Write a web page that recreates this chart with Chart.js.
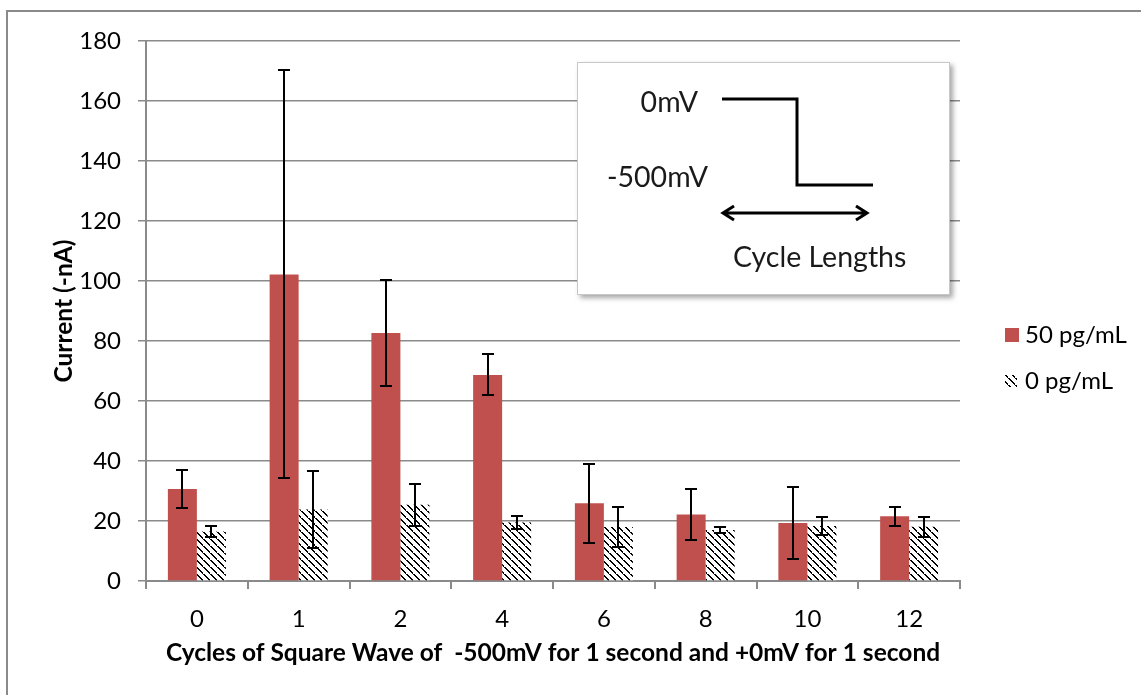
<!DOCTYPE html>
<html>
<head>
<meta charset="utf-8">
<script src="https://cdn.jsdelivr.net/npm/chart.js@4.4.1/dist/chart.umd.min.js"></script>
<style>
  html, body { margin: 0; padding: 0; background: #fff; }
  #wrap { width: 1141px; height: 695px; position: relative; }
</style>
</head>
<body>
<div id="wrap"><canvas id="c" width="1141" height="695"></canvas></div>
<script>
// Cycle counts on the x axis
const categories = ['0', '1', '2', '4', '6', '8', '10', '12'];
// 50 pg/mL sample: mean current and error
const current50 = [30.7, 102.2, 82.7, 68.7, 25.9, 22.2, 19.3, 21.6];
const error50 = [6.2, 68.0, 17.8, 6.8, 13.2, 8.5, 12.0, 3.2];
// 0 pg/mL blank: mean current and error
const current0 = [16.5, 23.8, 25.4, 19.5, 18.0, 17.0, 18.3, 18.1];
const error0 = [1.7, 12.8, 6.9, 2.3, 6.6, 1.1, 3.0, 3.3];
// y axis range
const yMin = 0, yMax = 180, yStep = 20;

const FONT = 'Lato, "Open Sans", "DejaVu Sans", sans-serif';
const GRID = '#8a8a8a';
const RED = '#C0504D';

// Downward diagonal hatch used for the blank series
function makeHatch() {
  const n = 7;
  const t = document.createElement('canvas');
  t.width = n; t.height = n;
  const g = t.getContext('2d');
  g.fillStyle = '#fff';
  g.fillRect(0, 0, n, n);
  g.fillStyle = '#000';
  for (let r = 0; r < n; r++) {
    if (r === 6) {
      g.fillRect(r % n, r, 1, 1);
      continue;
    }
    g.fillRect(r % n, r, 1, 1);
    g.fillRect((r + 1) % n, r, 1, 1);
  }
  return g.createPattern(t, 'repeat');
}
const ctx0 = document.getElementById('c').getContext('2d');
const hatch = makeHatch();

const errorSets = [error50, error0];

// Frame around the whole figure
const framePlugin = {
  id: 'frame',
  beforeDraw(chart) {
    const c = chart.ctx;
    c.save();
    c.strokeStyle = GRID;
    c.lineWidth = 2;
    c.beginPath();
    c.moveTo(7, 700);
    c.lineTo(7, 11);
    c.lineTo(1150, 11);
    c.stroke();
    c.restore();
  }
};

// Error bars with caps
const errorBarPlugin = {
  id: 'errorBars',
  afterDatasetsDraw(chart) {
    const c = chart.ctx;
    const y = chart.scales.y;
    c.save();
    c.strokeStyle = '#000';
    c.lineWidth = 2;
    chart.data.datasets.forEach((ds, di) => {
      const meta = chart.getDatasetMeta(di);
      meta.data.forEach((bar, i) => {
        const v = ds.data[i], e = errorSets[di][i];
        const x = Math.round(bar.x);
        const yt = Math.round(y.getPixelForValue(v + e));
        const yb = Math.round(y.getPixelForValue(v - e));
        c.beginPath();
        c.moveTo(x, yt); c.lineTo(x, yb);
        c.moveTo(x - 6, yt); c.lineTo(x + 6, yt);
        c.moveTo(x - 6, yb); c.lineTo(x + 6, yb);
        c.stroke();
      });
    });
    c.restore();
  }
};

// Legend on the right
const legendPlugin = {
  id: 'sideLegend',
  afterDraw(chart) {
    const c = chart.ctx;
    c.save();
    c.font = '24px ' + FONT;
    c.textBaseline = 'middle';
    const rows = [{ y: 335, size: 14 }, { y: 381, size: 12 }];
    chart.data.datasets.forEach((ds, i) => {
      const r = rows[i];
      c.fillStyle = ds.backgroundColor;
      c.fillRect(1005, r.y - r.size / 2, r.size, r.size);
      c.fillStyle = '#000';
      c.fillText(ds.label, 1025, r.y);
    });
    c.restore();
  }
};

// Inset sketch of the applied square wave
const insetPlugin = {
  id: 'waveInset',
  afterDraw(chart) {
    const c = chart.ctx;
    c.save();
    c.shadowColor = 'rgba(0,0,0,0.35)';
    c.shadowBlur = 5;
    c.shadowOffsetX = 3;
    c.shadowOffsetY = 3;
    c.fillStyle = '#fff';
    c.fillRect(577, 62, 373, 233);
    c.restore();
    c.save();
    c.strokeStyle = '#c8c8c8';
    c.lineWidth = 1;
    c.strokeRect(577.5, 62.5, 372, 232);
    c.fillStyle = '#1a1a1a';
    c.font = '28.5px ' + FONT;
    c.textBaseline = 'middle';
    c.textAlign = 'right';
    c.fillText('0mV', 698, 103);
    c.fillText('-500mV', 708, 178);
    c.textAlign = 'left';
    c.fillText('Cycle Lengths', 733, 258);
    c.strokeStyle = '#000';
    c.lineWidth = 3;
    c.lineJoin = 'miter';
    c.beginPath();
    c.moveTo(722, 99); c.lineTo(797, 99); c.lineTo(797, 185); c.lineTo(873, 185);
    c.stroke();
    // double-headed arrow
    c.beginPath();
    c.moveTo(724, 213); c.lineTo(866, 213);
    c.moveTo(734, 206); c.lineTo(723, 213); c.lineTo(734, 220);
    c.moveTo(856, 206); c.lineTo(867, 213); c.lineTo(856, 220);
    c.stroke();
    c.restore();
  }
};

new Chart(ctx0, {
  type: 'bar',
  data: {
    labels: categories,
    datasets: [
      { label: '50 pg/mL', data: current50, backgroundColor: RED, borderWidth: 0 },
      { label: '0 pg/mL', data: current0, backgroundColor: hatch, borderWidth: 0 }
    ]
  },
  options: {
    responsive: false,
    animation: false,
    devicePixelRatio: 1,
    layout: { padding: { left: 40, top: 41, right: 181, bottom: 20 } },
    datasets: { bar: { categoryPercentage: 0.57, barPercentage: 1.0 } },
    plugins: { legend: { display: false }, tooltip: { enabled: false } },
    scales: {
      x: {
        grid: { display: true, drawOnChartArea: false, drawTicks: true, tickLength: 8, color: GRID, lineWidth: 2, offset: true },
        border: { color: GRID, width: 2 },
        ticks: { color: '#000', font: { family: FONT, size: 24 }, padding: 16 },
        title: { display: true, text: 'Cycles of Square Wave of  -500mV for 1 second and +0mV for 1 second',
                 color: '#000', font: { family: FONT, size: 24.5, weight: 'bold' }, padding: { top: 0, bottom: 7 } },
        afterFit(s) { s.height = 94; s.paddingLeft = 0; s.paddingRight = 0; }
      },
      y: {
        min: yMin, max: yMax,
        ticks: { stepSize: yStep, color: '#000', font: { family: FONT, size: 24 }, padding: 17 },
        grid: { color: GRID, lineWidth: 1.5, tickLength: 8, drawTicks: true },
        border: { color: GRID, width: 2 },
        title: { display: true, text: 'Current (-nA)', color: '#000',
                 font: { family: FONT, size: 24.5, weight: 'bold' }, padding: { top: 9, bottom: 0 } },
        afterFit(s) { s.width = 106; s.paddingTop = 0; s.paddingBottom = 0; }
      }
    }
  },
  plugins: [framePlugin, errorBarPlugin, legendPlugin, insetPlugin]
});
</script>
</body>
</html>
